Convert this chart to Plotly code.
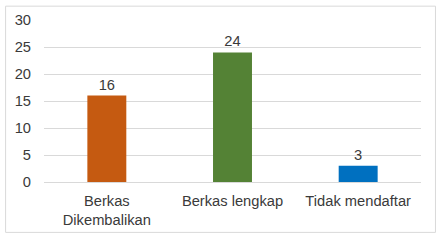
import plotly.graph_objects as go

categories = ["Berkas<br>Dikembalikan", "Berkas lengkap", "Tidak mendaftar"]
values = [16, 24, 3]
colors = ["#C55A11", "#548235", "#0070C0"]
y_ticks = [0, 5, 10, 15, 20, 25, 30]

font_family = "Liberation Sans, Arial, sans-serif"
text_color = "#3A3A3A"
fs = 14.7

fig = go.Figure(go.Bar(
    x=categories, y=values,
    marker=dict(color=colors, line=dict(width=0)),
    width=0.31,
    text=[str(v) for v in values],
    textposition="outside",
    textfont=dict(family=font_family, size=fs, color=text_color),
    cliponaxis=False,
))

fig.update_layout(
    width=441, height=240,
    margin=dict(l=43.5, r=19.5, t=19, b=57),
    paper_bgcolor="white", plot_bgcolor="white",
    showlegend=False,
    font=dict(family=font_family, size=fs, color=text_color),
    xaxis=dict(showgrid=False, showline=True, linecolor="#D9D9D9", linewidth=1,
               ticks="", ticklabelstandoff=5, tickfont=dict(size=fs, color=text_color)),
    yaxis=dict(range=[0, 30], tickvals=y_ticks, showgrid=True, gridcolor="#D9D9D9",
               gridwidth=1, zeroline=False, showline=False, ticks="",
               ticklabelstandoff=12, tickfont=dict(size=fs, color=text_color)),
    shapes=[dict(type="rect", xref="paper", yref="paper",
                 x0=(5 - 43.5) / 378, x1=(436 - 43.5) / 378,
                 y0=(183 - 234) / 164, y1=(183 - 5) / 164,
                 line=dict(color="#D9D9D9", width=1), fillcolor="rgba(0,0,0,0)",
                 layer="below")],
)

fig.write_html("out.html")
